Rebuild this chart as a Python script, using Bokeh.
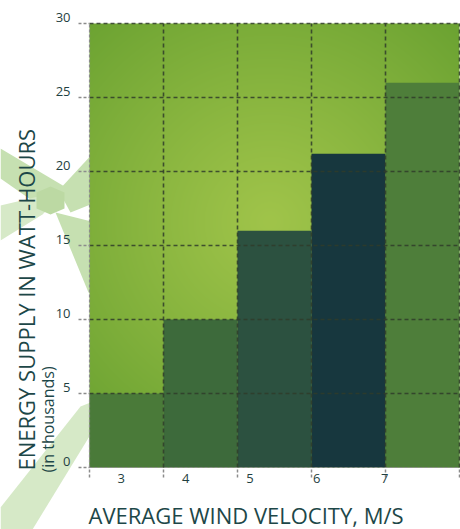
import numpy as np
from bokeh.plotting import figure
from bokeh.models import FixedTicker, Label, Range1d, ColumnDataSource
from bokeh.embed import file_html
from bokeh.resources import INLINE

# ---- data ----
velocity_labels = ["3", "4", "5", "6", "7"]
energy_thousands = [5, 10, 16, 21.2, 26]
bar_colors = ["#4a7a39", "#3d6a3b", "#2c5140", "#17373e", "#4e7e3a"]
y_ticks = [0, 5, 10, 15, 20, 25, 30]
label_pos = [0.43, 1.30, 2.17, 3.07, 3.99]   # where the original puts the velocity labels
x_title = "AVERAGE WIND VELOCITY, M/S"
y_title = "ENERGY SUPPLY IN WATT-HOURS"
y_subtitle = "(in thousands)"

# ---- geometry: the plotting area sits at these pixels of the 460x529 canvas ----
W, H = 460, 529
PL, PR, PT, PB = 89, 459, 23, 467
NX, NY = len(energy_thousands), 30

def dx(px):
    return (px - PL) / (PR - PL) * NX

def dy(py):
    return (PB - py) / (PB - PT) * NY

p = figure(width=W, height=H, output_backend="svg", toolbar_location=None,
           x_range=Range1d(dx(0), dx(W)), y_range=Range1d(dy(H), dy(0)),
           min_border_left=0, min_border_right=0, min_border_top=0, min_border_bottom=0,
           background_fill_color="white", border_fill_color="white")
p.outline_line_color = None
p.xgrid.visible = False
p.ygrid.visible = False

# ---- decorative windmill (behind the plotting area) ----
light = "#c6e0b1"
lighter = "#d6e9c7"
shapes = [
    ([0, 0, 40, 64], [148, 178, 206, 186], light),
    ([58, 95, 95, 70], [190, 150, 202, 212], light),
    ([0, 0, 42, 56, 38], [205, 240, 214, 200, 196], lighter),
    ([55, 95, 95, 88], [212, 222, 292, 292], light),
    ([36, 50, 64, 64, 50, 36], [192, 186, 192, 208, 214, 208], "#bcd9a3"),
    ([80, 95, 95, 32, 0, 0], [406, 400, 426, 529, 529, 507], lighter),
]
p.patches(xs=[[dx(v) for v in s[0]] for s in shapes],
          ys=[[dy(v) for v in s[1]] for s in shapes],
          fill_color=[s[2] for s in shapes], line_color=None, level="image")

# ---- radial gradient background of the plotting area ----
fw, fh = PR - PL, PB - PT
yy, xx = np.mgrid[0:fh, 0:fw]
cx, cy = 180, fh - 199           # brightest spot (image rows count from bottom)
d = np.sqrt((xx - cx) ** 2 + (yy - cy) ** 2) / 270.0
t = np.clip(d, 0, 1) ** 1.1
c0 = np.array([160, 196, 74])
c1 = np.array([108, 163, 50])
rgb = (c0[None, None, :] * (1 - t[..., None]) + c1[None, None, :] * t[..., None]).astype(np.uint32)
img = (255 << 24) | (rgb[..., 2] << 16) | (rgb[..., 1] << 8) | rgb[..., 0]
p.image_rgba(image=[img.astype(np.uint32)], x=0, y=0, dw=NX, dh=NY, level="image")

# ---- bars ----
src = ColumnDataSource(dict(left=list(range(NX)), right=[i + 1 for i in range(NX)],
                            top=energy_thousands, color=bar_colors))
p.quad(left="left", right="right", bottom=0, top="top", fill_color="color",
       line_color=None, source=src, level="image")

# ---- grid (dark dashed), limited to the plotting area ----
gx = list(range(1, NX + 1))
gy = y_ticks[1:]
grid_style = dict(line_color="#2f3c2a", line_alpha=0.85, line_dash="4 3", line_width=1.6,
                  level="underlay")
p.segment(x0=gx, y0=[0] * len(gx), x1=gx, y1=[NY] * len(gx), **grid_style)
p.segment(x0=[0] * len(gy), y0=gy, x1=[NX] * len(gy), y1=gy, **grid_style)

tick_gray = "#8c8c8c"
# left edge of the plotting area
p.segment(x0=[0], y0=[0], x1=[0], y1=[NY], line_color=tick_gray, line_dash="3 2",
          line_width=1.2)

# ---- axes ----
txt = "#1f3f42"
font = "Open Sans"
lab_shift = 0.4   # the original prints the value labels a little above their ticks

ya = p.yaxis[0]
ya.fixed_location = 0
ya.bounds = (0, NY + 0.5)
ya.ticker = FixedTicker(ticks=[v + lab_shift for v in y_ticks], minor_ticks=y_ticks)
ya.major_label_overrides = {v + lab_shift: str(v) for v in y_ticks}
ya.axis_line_color = None
ya.major_tick_line_color = None
ya.major_tick_out = 0
ya.major_tick_in = 0
ya.minor_tick_out = 11
ya.minor_tick_in = 0
ya.minor_tick_line_color = tick_gray
ya.minor_tick_line_dash = "3 2"
ya.minor_tick_line_width = 1.5
ya.major_label_standoff = 8
ya.major_label_text_font = font
ya.major_label_text_font_size = "13px"
ya.major_label_text_color = txt

xa = p.xaxis[0]
xa.fixed_location = 0
xa.bounds = (0, NX)
xa.ticker = FixedTicker(ticks=label_pos, minor_ticks=list(range(NX + 1)))
xa.major_label_overrides = {pos: lab for pos, lab in zip(label_pos, velocity_labels)}
xa.axis_line_color = tick_gray
xa.axis_line_dash = "3 2"
xa.axis_line_width = 1.2
xa.major_tick_line_color = None
xa.major_tick_out = 0
xa.major_tick_in = 0
xa.minor_tick_out = 10
xa.minor_tick_in = 0
xa.minor_tick_line_color = tick_gray
xa.minor_tick_line_dash = "3 2"
xa.minor_tick_line_width = 1.5
xa.major_label_standoff = -4
xa.major_label_text_font = font
xa.major_label_text_font_size = "13px"
xa.major_label_text_color = txt

# ---- titles ----
title_col = "#1d4748"
p.add_layout(Label(x=dx(88), y=dy(514), text=x_title, text_font=font,
                   text_font_size="22px", text_color=title_col,
                   text_align="left", text_baseline="alphabetic"))
p.add_layout(Label(x=dx(25), y=dy(470), text=y_title, text_font=font,
                   text_font_size="22px", text_color=title_col, angle=np.pi / 2,
                   text_align="left", text_baseline="alphabetic"))
p.add_layout(Label(x=dx(47), y=dy(472), text=y_subtitle, text_font=font,
                   text_font_size="16px", text_color=title_col, angle=np.pi / 2,
                   text_align="left", text_baseline="alphabetic"))

open("out.html", "w").write(file_html(p, INLINE))
